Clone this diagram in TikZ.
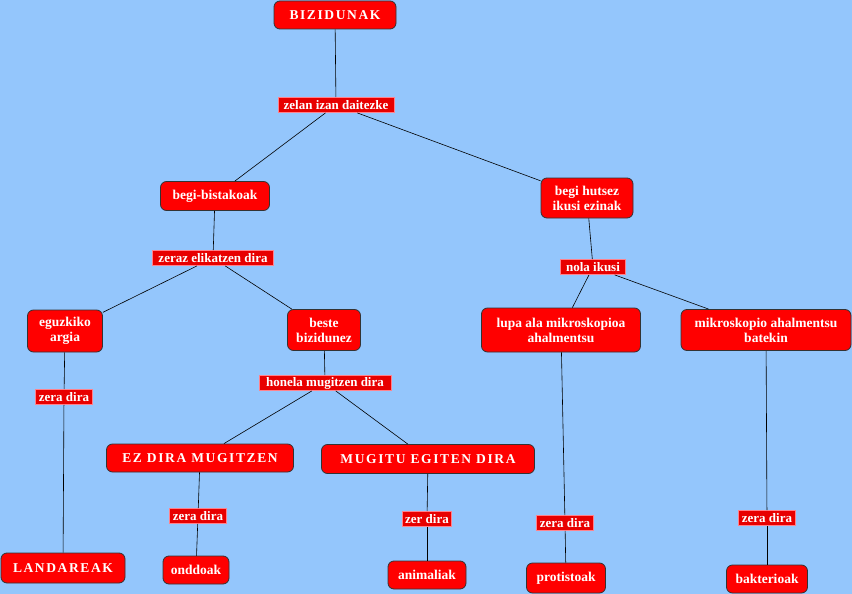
\documentclass[tikz,border=0pt]{standalone}
\usepackage{fontspec}
\setmainfont{Liberation Serif}
\definecolor{bgblue}{RGB}{148,198,252}
\definecolor{boxred}{RGB}{255,0,0}
\definecolor{lblred}{RGB}{232,0,0}
\definecolor{lblborder}{RGB}{255,130,140}
\tikzset{
  cbox/.style={draw=black!80, line width=0.8pt, fill=boxred, rounded corners=6pt,
    text=white, font=\fontsize{13.5}{15}\selectfont\bfseries, align=center, inner sep=1pt},
  caps/.style={font=\fontsize{13.5}{15}\selectfont\bfseries\addfontfeatures{LetterSpace=12}},
  lbl/.style={draw=lblborder, line width=0.8pt, fill=lblred, text=white,
    font=\fontsize{13}{13}\selectfont\bfseries, inner sep=0.5pt, minimum height=15pt},
  conn/.style={draw=black, line width=0.6pt}
}
\begin{document}
\begin{tikzpicture}[x=1pt,y=-1pt]
\fill[bgblue] (0,0) rectangle (852,594);
\useasboundingbox (0,0) rectangle (852,594);
% boxes
\node[cbox, caps, minimum width=122pt, minimum height=28pt] (biz) at (335,15) {BIZIDUNAK};
\node[cbox, minimum width=109pt, minimum height=29pt] (bb) at (215,196) {begi-bistakoak};
\node[cbox, minimum width=92pt, minimum height=40pt] (bh) at (587,198) {begi hutsez\\ikusi ezinak};
\node[cbox, minimum width=75pt, minimum height=42pt] (eg) at (65,331) {eguzkiko\\argia};
\node[cbox, minimum width=73pt, minimum height=41pt] (be) at (324,330) {beste\\bizidunez};
\node[cbox, minimum width=159pt, minimum height=44pt] (lu) at (561,330) {lupa ala mikroskopioa\\ahalmentsu};
\node[cbox, minimum width=170pt, minimum height=41pt] (mi) at (766,330) {mikroskopio ahalmentsu\\batekin};
\node[cbox, caps, minimum width=187pt, minimum height=28pt] (ez) at (200,458) {EZ DIRA MUGITZEN};
\node[cbox, caps, minimum width=213pt, minimum height=29pt] (mu) at (428,459) {MUGITU EGITEN DIRA};
\node[cbox, caps, minimum width=124pt, minimum height=30pt] (la) at (63,568) {LANDAREAK};
\node[cbox, minimum width=66pt, minimum height=28pt] (on) at (196,570) {onddoak};
\node[cbox, minimum width=78pt, minimum height=28pt] (an) at (427,575) {animaliak};
\node[cbox, minimum width=79pt, minimum height=30pt] (pr) at (566,578) {protistoak};
\node[cbox, minimum width=81pt, minimum height=28pt] (ba) at (767,579) {bakterioak};
% labels
\node[lbl, minimum width=116pt] (l1) at (336,105) {zelan izan daitezke};
\node[lbl, minimum width=121pt] (l2) at (213,258) {zeraz elikatzen dira};
\node[lbl, minimum width=65pt] (l3) at (593,267) {nola ikusi};
\node[lbl, minimum width=57pt] (l4) at (64,397) {zera dira};
\node[lbl, minimum width=132pt] (l5) at (325,383) {honela mugitzen dira};
\node[lbl, minimum width=57pt] (l6) at (198,516) {zera dira};
\node[lbl, minimum width=49pt] (l7) at (427,519) {zer dira};
\node[lbl, minimum width=57pt] (l8) at (565,523) {zera dira};
\node[lbl, minimum width=57pt] (l9) at (767,518) {zera dira};
% connectors
\draw[conn] (biz) -- (l1);
\draw[conn] (l1) -- (bb);
\draw[conn] (l1) -- (bh);
\draw[conn] (bb) -- (l2);
\draw[conn] (l2) -- (eg);
\draw[conn] (l2) -- (be);
\draw[conn] (bh) -- (l3);
\draw[conn] (l3) -- (lu);
\draw[conn] (l3) -- (mi);
\draw[conn] (eg) -- (l4);
\draw[conn] (l4) -- (la);
\draw[conn] (be) -- (l5);
\draw[conn] (l5) -- (ez);
\draw[conn] (l5) -- (mu);
\draw[conn] (ez) -- (l6);
\draw[conn] (l6) -- (on);
\draw[conn] (mu) -- (l7);
\draw[conn] (l7) -- (an);
\draw[conn] (lu) -- (l8);
\draw[conn] (l8) -- (pr);
\draw[conn] (mi) -- (l9);
\draw[conn] (l9) -- (ba);
\end{tikzpicture}
\end{document}
